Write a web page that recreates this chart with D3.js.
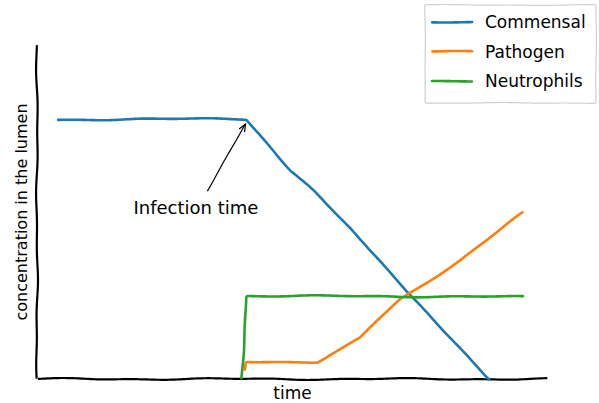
<!DOCTYPE html>
<html>
<head>
<meta charset="utf-8">
<script src="https://cdn.jsdelivr.net/npm/d3@7"></script>
<style>
  html, body { margin: 0; padding: 0; background: #fff; }
  svg text { font-family: "Humor Sans", "Comic Sans MS", "DejaVu Sans", sans-serif; fill: #000; }
</style>
</head>
<body>
<svg id="chart" width="599" height="403"></svg>
<script>
// ---- data (x: time, y: concentration, both in % of axis range) ----
const seriesNames = ["Commensal", "Pathogen", "Neutrophils"];
const seriesColors = ["#1f77b4", "#ff7f0e", "#2ca02c"];
const commensalX = [4.1, 20, 41.1, 49.5, 54.4, 61.3, 67.1, 72.4, 88.5];
const commensalY = [77.5, 77.9, 77.8, 62.6, 55.7, 45.2, 35.6, 26.0, 0];
const pathogenX = [40.7, 40.9, 54.8, 63.2, 71.0, 82.8, 95.1];
const pathogenY = [2.7, 5.1, 5.1, 12.3, 23.7, 35.6, 49.7];
const neutroX = [40.1, 40.9, 95.1];
const neutroY = [0, 24.9, 24.6];
const annotationText = "Infection time";
const annotationPoint = [41.0, 76.9];
const annotationTextPos = [31.1, 49.5];
const xLabel = "time";
const yLabel = "concentration in the lumen";

const svg = d3.select("#chart");
const W = 599, H = 403;
const margin = {left: 37, right: 51, top: 45, bottom: 24};
const x = d3.scaleLinear().domain([0, 100]).range([margin.left, W - margin.right]);
const y = d3.scaleLinear().domain([0, 100]).range([H - margin.bottom, margin.top]);

// hand-drawn wobble applied to pixel paths (style only)
function sketchy(pts, amp, seed) {
  const out = [];
  let s = 0;
  const off = (t) => [
    amp * (0.6 * Math.sin(t / 23 + seed) + 0.4 * Math.sin(t / 9.5 + 2 * seed)),
    amp * (0.6 * Math.sin(t / 27 + 3 * seed) + 0.4 * Math.sin(t / 11 + seed * 1.7))
  ];
  for (let i = 0; i < pts.length - 1; i++) {
    const [x0, y0] = pts[i], [x1, y1] = pts[i + 1];
    const len = Math.hypot(x1 - x0, y1 - y0);
    const n = Math.max(1, Math.ceil(len / 2));
    for (let k = (i === 0 ? 0 : 1); k <= n; k++) {
      const t = k / n;
      const px = x0 + (x1 - x0) * t, py = y0 + (y1 - y0) * t;
      const o = off(s + len * t);
      out.push([px + o[0], py + o[1]]);
    }
    s += len;
  }
  return d3.line().curve(d3.curveBasis)(out);
}

svg.append("rect").attr("width", W).attr("height", H).attr("fill", "#fff");

// axes (spines only)
const gx = svg.append("g").attr("transform", `translate(0,${y(0)})`)
  .call(d3.axisBottom(x).tickValues([]).tickSizeOuter(0));
const gy = svg.append("g").attr("transform", `translate(${x(0)},0)`)
  .call(d3.axisLeft(y).tickValues([]).tickSizeOuter(0));
gx.select(".domain").attr("d", sketchy([[x(0), 0], [x(100), 0]], 1.0, 1.3))
  .attr("stroke", "#000").attr("stroke-width", 2.2).attr("fill", "none");
gy.select(".domain").attr("d", sketchy([[0, y(100)], [0, y(0)]], 1.0, 4.1))
  .attr("stroke", "#000").attr("stroke-width", 2.2).attr("fill", "none");

// lines
const series = [
  d3.zip(commensalX, commensalY),
  d3.zip(pathogenX, pathogenY),
  d3.zip(neutroX, neutroY)
];
const gl = svg.append("g");
series.forEach((s, i) => {
  const pts = s.map(d => [x(d[0]), y(d[1])]);
  gl.append("path").attr("d", sketchy(pts, 0.9, 2 + i * 1.9))
    .attr("fill", "none").attr("stroke", seriesColors[i])
    .attr("stroke-width", 2.6).attr("stroke-linejoin", "round").attr("stroke-linecap", "round");
});

// annotation
const tx = x(annotationTextPos[0]), ty = y(annotationTextPos[1]);
svg.append("text").attr("x", tx).attr("y", ty).attr("text-anchor", "middle")
  .attr("font-size", 18).text(annotationText);
const ax0 = 207, ay0 = ty - 23;
const ax1 = x(annotationPoint[0]) - 1, ay1 = y(annotationPoint[1]) + 2;
const ga = svg.append("g");
ga.append("path").attr("d", sketchy([[ax0, ay0], [ax1, ay1]], 0.5, 0.7))
  .attr("fill", "none").attr("stroke", "#000").attr("stroke-width", 1.2);
const ang = Math.atan2(ay1 - ay0, ax1 - ax0);
const hl = 8, ha = 0.4;
ga.append("path").attr("d",
  `M${ax1 - hl*Math.cos(ang - ha)},${ay1 - hl*Math.sin(ang - ha)} L${ax1},${ay1} L${ax1 - hl*Math.cos(ang + ha)},${ay1 - hl*Math.sin(ang + ha)}`)
  .attr("fill", "none").attr("stroke", "#000").attr("stroke-width", 1.2);

// axis labels
svg.append("text").attr("x", (x(0) + x(100)) / 2).attr("y", 399)
  .attr("text-anchor", "middle").attr("font-size", 17).text(xLabel);
svg.append("text").attr("transform", `translate(27,${(y(0) + y(100)) / 2}) rotate(-90)`)
  .attr("text-anchor", "middle").attr("font-size", 16).text(yLabel);

// legend
const lg = svg.append("g");
lg.append("path")
  .attr("d", sketchy([[425, 5], [596, 5], [596, 103], [425, 103], [425, 5]], 0.5, 5.5))
  .attr("fill", "#fff").attr("stroke", "#d0d0d0").attr("stroke-width", 1.2);
seriesNames.forEach((n, i) => {
  const yy = 22 + i * 29.5;
  lg.append("path").attr("d", sketchy([[432, yy], [472, yy]], 0.5, i + 0.3))
    .attr("fill", "none")
    .attr("stroke", seriesColors[i]).attr("stroke-width", 2.6).attr("stroke-linecap", "round");
  lg.append("text").attr("x", 485).attr("y", yy + 6).attr("font-size", 17).text(n);
});
</script>
</body>
</html>
